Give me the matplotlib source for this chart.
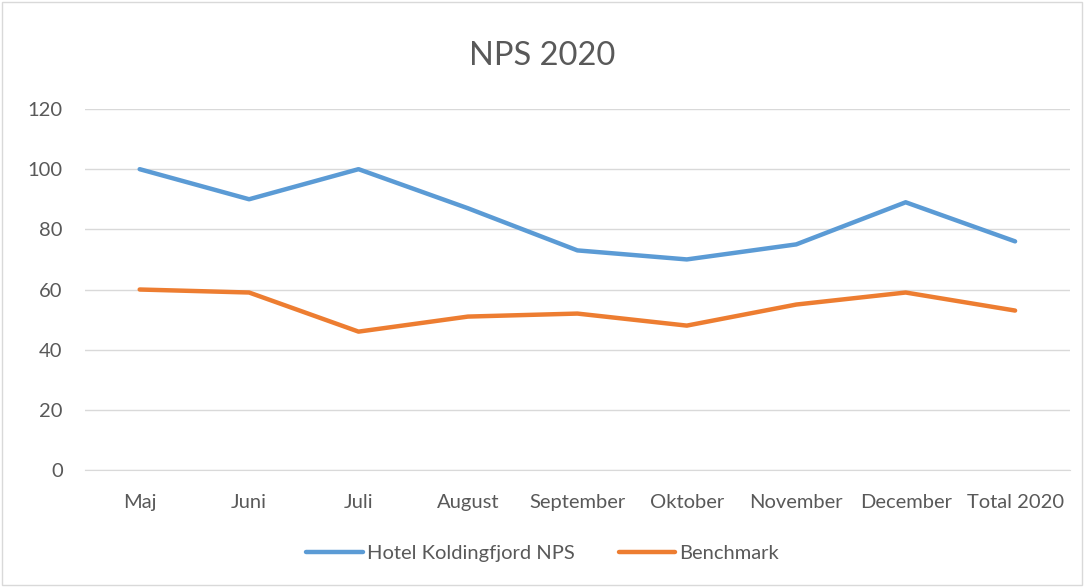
import matplotlib.pyplot as plt
from matplotlib.patches import Rectangle

plt.rcParams['font.family'] = ['Lato', 'DejaVu Sans']

# data
months = ['Maj', 'Juni', 'Juli', 'August', 'September', 'Oktober',
          'November', 'December', 'Total 2020']
hotel_nps = [100, 90, 100, 87, 73, 70, 75, 89, 76]
benchmark = [60, 59, 46, 51, 52, 48, 55, 59, 53]
y_ticks = [0, 20, 40, 60, 80, 100, 120]

fig = plt.figure(figsize=(10.85, 5.87), dpi=100)
ax = fig.add_axes([0.0783, 0.1993, 0.9077, 0.615])

x = range(len(months))
ax.plot(x, hotel_nps, color='#5B9BD5', lw=3.2, label='Hotel Koldingfjord NPS',
        solid_capstyle='round', solid_joinstyle='round')
ax.plot(x, benchmark, color='#ED7D31', lw=3.2, label='Benchmark',
        solid_capstyle='round', solid_joinstyle='round')

ax.set_xlim(-0.5, len(months) - 0.5)
ax.set_ylim(0, 120)
ax.set_yticks(y_ticks)
ax.set_xticks(list(x))
ax.set_xticklabels(months)
ax.yaxis.grid(True, color='#d9d9d9', lw=1)
ax.set_axisbelow(True)
for s in ['top', 'right', 'left']:
    ax.spines[s].set_visible(False)
ax.spines['bottom'].set_color('#d9d9d9')
ax.tick_params(axis='x', length=0, labelsize=14.5, colors='#595959', pad=17)
ax.tick_params(axis='y', length=0, labelsize=14.5, colors='#595959', pad=16)

fig.text(0.5, 0.905, 'NPS 2020', ha='center', va='center', fontsize=23.5, color='#595959')

ax.legend(loc='center', bbox_to_anchor=(0.5, 0.057), bbox_transform=fig.transFigure,
          ncol=2, frameon=False, fontsize=14.5, handlelength=2.8, handletextpad=0.2,
          columnspacing=2.2, labelcolor='#595959')

fig.patches.append(Rectangle((0.002, 0.003), 0.995, 0.994, transform=fig.transFigure,
                             fill=False, ec='#d9d9d9', lw=1))

fig.savefig('out.png', dpi=100)
